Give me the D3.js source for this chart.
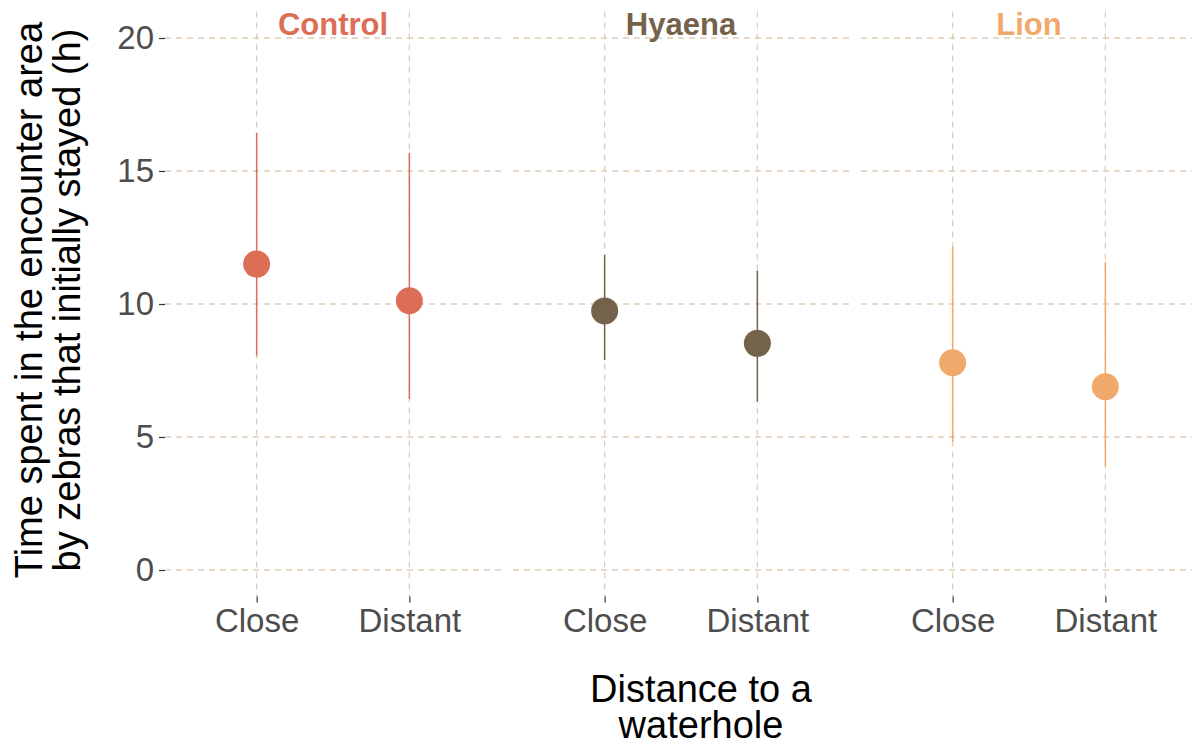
<!DOCTYPE html>
<html>
<head>
<meta charset="utf-8">
<script src="https://cdn.jsdelivr.net/npm/d3@7"></script>
<style>
  body { margin: 0; background: #fff; }
  text { font-family: "Liberation Sans", Arial, sans-serif; }
</style>
</head>
<body>
<div id="chart"></div>
<script>
// данные
var groups = ['Control', 'Hyaena', 'Lion'];
var distances = ['Close', 'Distant'];
var groupColors = ['#DC6E57', '#75624B', '#F0A96B'];
var means = [[11.5, 10.12], [9.74, 8.52], [7.79, 6.89]];
var lowers = [[8.06, 6.43], [7.89, 6.33], [4.82, 3.92]];
var uppers = [[16.43, 15.68], [11.84, 11.25], [12.15, 11.59]];
var yTicks = [0, 5, 10, 15, 20];

var width = 1192, height = 747;
var panelLeft = 165, panelWidth = 336, panelGap = 12;
var panelTop = 11.4, panelBottom = 596.6;
var gridColor = '#DFCDB6';

var svg = d3.select('#chart')
    .append('svg')
    .attr('width', width)
    .attr('height', height);

// ось Y общая для всех панелей, запас 5% как в ggplot
var y = d3.scaleLinear()
    .domain([-1, 21])
    .range([panelBottom, panelTop]);

groups.forEach(function (group, gi) {
    var x0 = panelLeft + gi * (panelWidth + panelGap);
    var x = d3.scalePoint()
        .domain(distances)
        .range([x0, x0 + panelWidth])
        .padding(0.6);
    var g = svg.append('g');

    // горизонтальная сетка
    g.selectAll('line.hgrid')
        .data(yTicks)
        .enter()
        .append('line')
        .attr('x1', x0)
        .attr('x2', x0 + panelWidth)
        .attr('y1', function (d) { return y(d); })
        .attr('y2', function (d) { return y(d); })
        .attr('stroke', gridColor)
        .attr('stroke-width', 1.3)
        .attr('stroke-dasharray', '6,5');

    // вертикальная сетка
    g.selectAll('line.vgrid')
        .data(distances)
        .enter()
        .append('line')
        .attr('x1', function (d) { return x(d); })
        .attr('x2', function (d) { return x(d); })
        .attr('y1', panelTop)
        .attr('y2', panelBottom)
        .attr('stroke', gridColor)
        .attr('stroke-width', 1.3)
        .attr('stroke-dasharray', '6,5');

    // подпись панели
    g.append('text')
        .attr('x', x0 + panelWidth / 2)
        .attr('y', 35)
        .attr('text-anchor', 'middle')
        .attr('font-size', 31)
        .attr('font-weight', 'bold')
        .attr('fill', groupColors[gi])
        .text(group);

    // ось X
    var xAxis = g.append('g')
        .attr('transform', 'translate(0,' + panelBottom + ')')
        .call(d3.axisBottom(x).tickSize(6).tickPadding(6));
    xAxis.select('.domain').remove();
    xAxis.selectAll('line').attr('stroke', '#333').attr('stroke-width', 1.2);
    xAxis.selectAll('text')
        .attr('font-size', 33)
        .attr('fill', '#4D4D4D')
        .attr('font-family', '"Liberation Sans", Arial, sans-serif');

    var rows = distances.map(function (d, i) {
        return { dist: d, mean: means[gi][i], lo: lowers[gi][i], hi: uppers[gi][i] };
    });

    // доверительные интервалы
    g.selectAll('line.err')
        .data(rows)
        .enter()
        .append('line')
        .attr('x1', function (d) { return x(d.dist); })
        .attr('x2', function (d) { return x(d.dist); })
        .attr('y1', function (d) { return y(d.lo); })
        .attr('y2', function (d) { return y(d.hi); })
        .attr('stroke', groupColors[gi])
        .attr('stroke-width', 1.5);

    // средние
    g.selectAll('circle')
        .data(rows)
        .enter()
        .append('circle')
        .attr('cx', function (d) { return x(d.dist); })
        .attr('cy', function (d) { return y(d.mean); })
        .attr('r', 13.5)
        .attr('fill', groupColors[gi]);
});

// ось Y
var yAxis = svg.append('g')
    .attr('transform', 'translate(' + panelLeft + ',0)')
    .call(d3.axisLeft(y).tickValues(yTicks).tickSize(6).tickPadding(5));
yAxis.select('.domain').remove();
yAxis.selectAll('line').attr('stroke', '#333').attr('stroke-width', 1.2);
yAxis.selectAll('text')
    .attr('font-size', 33)
    .attr('fill', '#4D4D4D')
    .attr('font-family', '"Liberation Sans", Arial, sans-serif');

// заголовок оси Y
var yTitle = svg.append('text')
    .attr('transform', 'translate(0,300) rotate(-90)')
    .attr('text-anchor', 'middle')
    .attr('font-size', 38)
    .attr('fill', '#000');
yTitle.append('tspan').attr('x', 0).attr('y', 42).text('Time spent in the encounter area');
yTitle.append('tspan').attr('x', 0).attr('y', 80).text('by zebras that initially stayed (h)');

// заголовок оси X
var xTitle = svg.append('text')
    .attr('text-anchor', 'middle')
    .attr('font-size', 38)
    .attr('fill', '#000');
xTitle.append('tspan').attr('x', 701).attr('y', 702).text('Distance to a');
xTitle.append('tspan').attr('x', 701).attr('y', 738).text('waterhole');
</script>
</body>
</html>
